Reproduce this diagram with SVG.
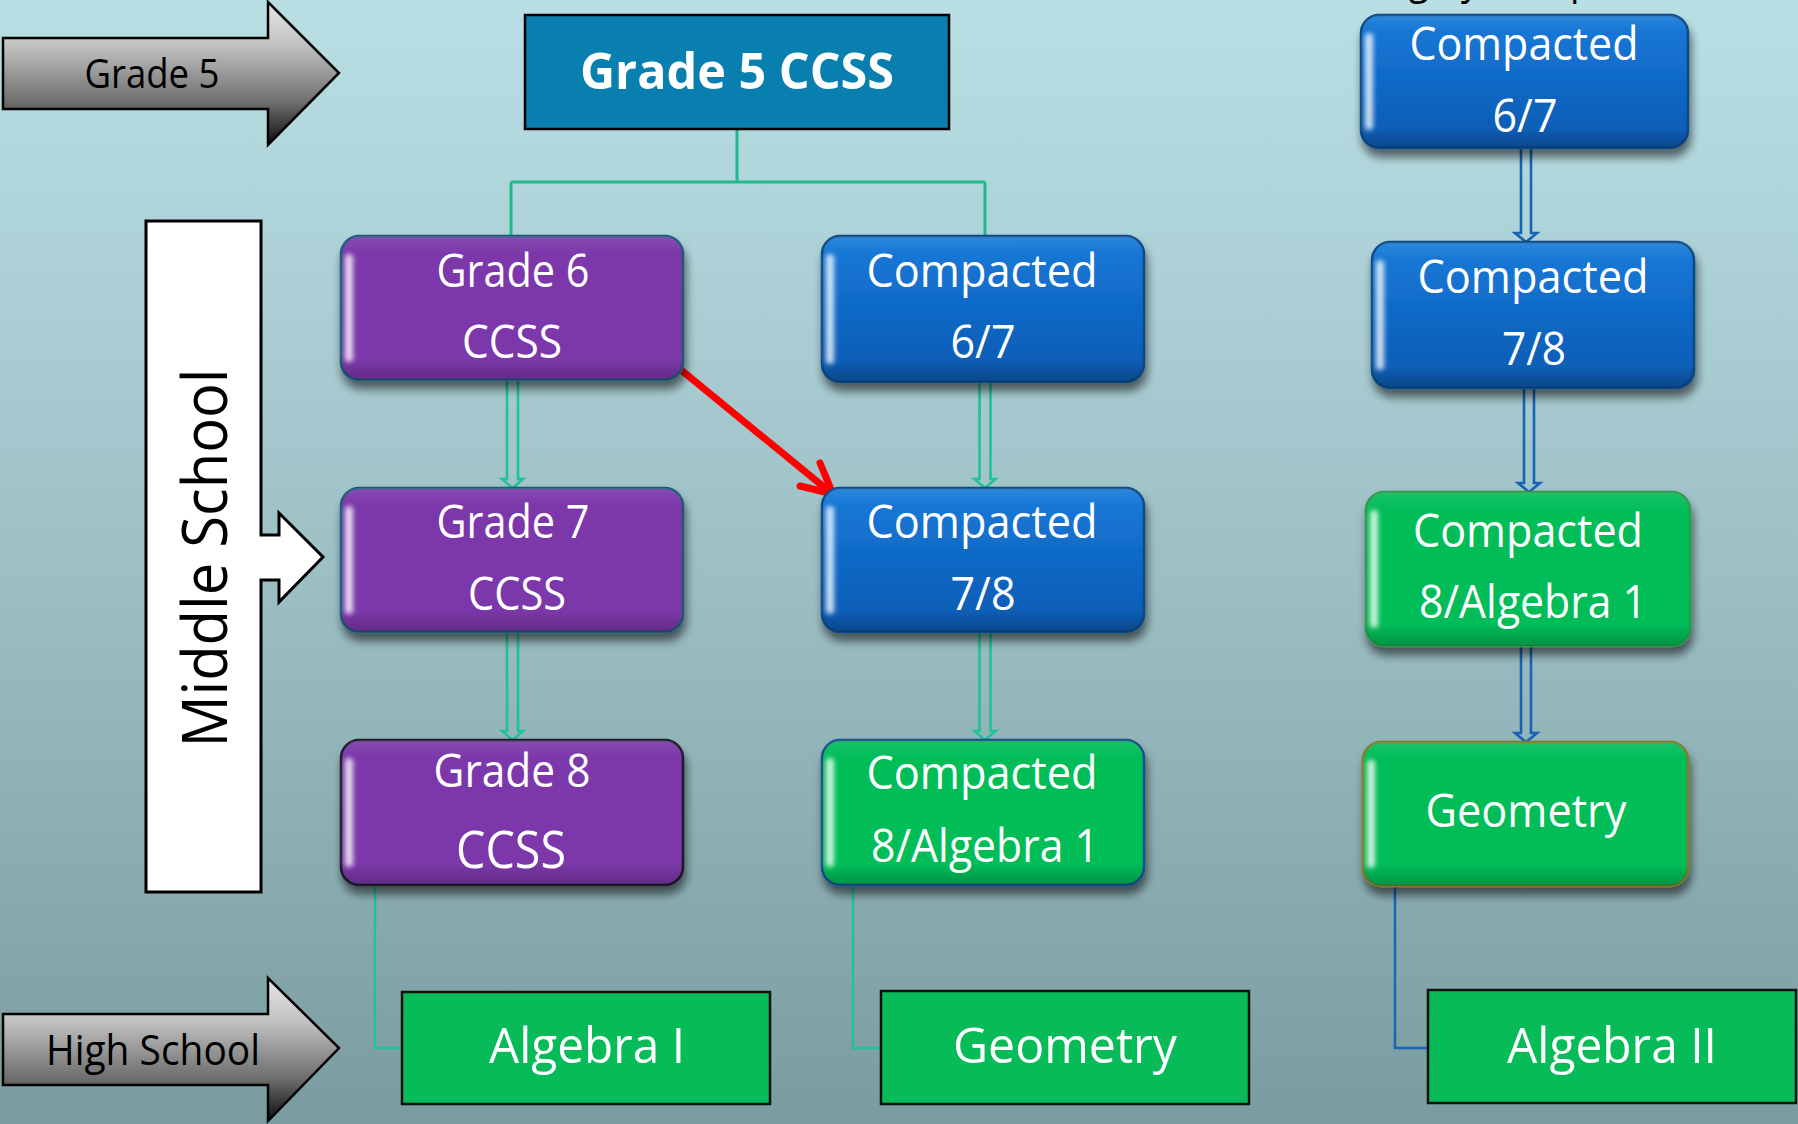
<svg xmlns="http://www.w3.org/2000/svg" width="1798" height="1124" viewBox="0 0 1798 1124">
<defs>
  <linearGradient id="bg" x1="0" y1="0" x2="0" y2="1">
    <stop offset="0" stop-color="#b9dfe5"/>
    <stop offset="0.5" stop-color="#9dc0c5"/>
    <stop offset="1" stop-color="#7a9ca0"/>
  </linearGradient>
  <linearGradient id="grayArrow" x1="0" y1="0" x2="0" y2="1">
    <stop offset="0" stop-color="#e6e6e6"/>
    <stop offset="0.3" stop-color="#c2c2c2"/>
    <stop offset="0.7" stop-color="#6e6e6e"/>
    <stop offset="1" stop-color="#0e0e0e"/>
  </linearGradient>
  <linearGradient id="blueFill" x1="0" y1="0" x2="0" y2="1">
    <stop offset="0" stop-color="#177bd9"/>
    <stop offset="0.5" stop-color="#1069c6"/>
    <stop offset="1" stop-color="#085ab0"/>
  </linearGradient>
  <linearGradient id="gloss" x1="0" y1="0" x2="0" y2="1">
    <stop offset="0" stop-color="#ffffff" stop-opacity="0.10"/>
    <stop offset="0.12" stop-color="#ffffff" stop-opacity="0"/>
    <stop offset="0.85" stop-color="#000000" stop-opacity="0"/>
    <stop offset="1" stop-color="#000000" stop-opacity="0.22"/>
  </linearGradient>
  <filter id="shadow" x="-10%" y="-10%" width="120%" height="135%">
    <feGaussianBlur in="SourceAlpha" stdDeviation="5"/>
    <feOffset dx="2" dy="8" result="b"/>
    <feComponentTransfer><feFuncA type="linear" slope="0.55"/></feComponentTransfer>
    <feMerge><feMergeNode/><feMergeNode in="SourceGraphic"/></feMerge>
  </filter>
  <filter id="soft" x="-150%" y="-10%" width="400%" height="120%">
    <feGaussianBlur stdDeviation="2.4"/>
  </filter>
  <style>
    .lbl { font-family: "Open Sans", "Noto Sans", "Liberation Sans", sans-serif; fill: #ffffff; text-anchor: middle; }
    .dark { font-family: "Open Sans", "Noto Sans", "Liberation Sans", sans-serif; fill: #000000; text-anchor: middle; }
    .s45 { font-size: 45px; }
    .s50 { font-size: 50px; }
    .purple { fill: #7b37aa; stroke: #1d5a78; stroke-width: 2.5; }
    .blue { fill: url(#blueFill); stroke: #0c4a85; stroke-width: 2.5; }
    .green { fill: #06bd58; stroke-width: 2.5; }
    .glossy { fill: url(#gloss); stroke: none; }
    .hl { fill: #ffffff; opacity: 0.8; }
    .rectBox { fill: #07bc58; stroke: #111111; stroke-width: 2.5; }
    .tree { fill: none; stroke: #1fb98b; stroke-width: 3; }
    .dblG { fill: none; stroke: #1fc493; stroke-width: 2.6; stroke-linejoin: miter; }
    .dblB { fill: none; stroke: #1763b5; stroke-width: 2.6; stroke-linejoin: miter; }
    .elbG { fill: none; stroke: #1ec493; stroke-width: 2.5; }
    .elbB { fill: none; stroke: #1766bb; stroke-width: 2.5; }
  </style>
</defs>

<rect x="0" y="0" width="1798" height="1124" fill="url(#bg)"/>

<g id="top-cut-label">
  <text class="dark" x="1530" y="-6" font-size="42" textLength="317" lengthAdjust="spacingAndGlyphs">Highly Compacted</text>
</g>

<g id="connectors">
  <path class="tree" d="M737,129 V182 M511,182 H985 M511,182 V236 M985,182 V236"/>
  <path class="dblG" d="M507,381 V479 L502,479 L512.5,488 L523,479 L518,479 V381"/>
  <path class="dblG" d="M507,632 V731 L502,731 L512.5,740 L523,731 L518,731 V632"/>
  <path class="dblG" d="M979.5,382 V479 L974.5,479 L985,488 L995.5,479 L990.5,479 V382"/>
  <path class="dblG" d="M979.5,632 V731 L974.5,731 L985,740 L995.5,731 L990.5,731 V632"/>
  <path class="dblB" d="M1521,148 V233 L1515,233 L1526,242 L1537,233 L1531,233 V148"/>
  <path class="dblB" d="M1524,388 V483 L1518,483 L1529,492 L1540,483 L1534,483 V388"/>
  <path class="dblB" d="M1521,646 V733 L1515,733 L1526,742 L1537,733 L1531,733 V646"/>
  <path class="elbG" d="M375,885 V1048 H402"/>
  <path class="elbG" d="M853,885 V1048 H881"/>
  <path class="elbB" d="M1395,886 V1048 H1428"/>
  <path d="M675,365 L830,492" fill="none" stroke="#ff0000" stroke-width="7" stroke-linecap="round"/>
  <path d="M800,486 L833,494 L820,463" fill="none" stroke="#ff0000" stroke-width="7" stroke-linecap="round" stroke-linejoin="round"/>
</g>

<g id="grade5-arrow">
  <path d="M3,38 H268 V2 L339,73 L268,145 V109 H3 Z" fill="url(#grayArrow)" stroke="#000" stroke-width="2.5"/>
  <text class="dark" x="152" y="88" font-size="41" textLength="135" lengthAdjust="spacingAndGlyphs">Grade 5</text>
</g>

<g id="highschool-arrow">
  <path d="M3,1014 H268 V978 L339,1048 L268,1121 V1085 H3 Z" fill="url(#grayArrow)" stroke="#000" stroke-width="2.5"/>
  <text class="dark" x="153" y="1065" font-size="42" textLength="214" lengthAdjust="spacingAndGlyphs">High School</text>
</g>

<g id="middle-school">
  <path d="M146,221 H261 V535 H279 V513 L323,557 L279,602 V580 H261 V892 H146 Z" fill="#ffffff" stroke="#000" stroke-width="3"/>
  <text class="dark" transform="translate(227,558) rotate(-90)" x="0" y="0" font-size="62" textLength="379" lengthAdjust="spacingAndGlyphs">Middle School</text>
</g>

<g id="grade5-ccss">
  <rect x="525" y="15" width="424" height="114" fill="#087fae" stroke="#000" stroke-width="2.5"/>
  <text class="lbl" x="737" y="89" font-size="51" font-weight="bold" textLength="314" lengthAdjust="spacingAndGlyphs">Grade 5 CCSS</text>
</g>

<g id="grade6">
  <rect class="purple" x="341" y="236" width="342" height="144" rx="18" filter="url(#shadow)"/>
  <rect class="glossy" x="341" y="236" width="342" height="144" rx="18"/>
  <rect class="hl" x="345" y="254" width="8" height="108" rx="4" filter="url(#soft)"/>
  <text class="lbl s45" x="513" y="287" textLength="153" lengthAdjust="spacingAndGlyphs">Grade 6</text>
  <text class="lbl s45" x="512" y="358" textLength="100" lengthAdjust="spacingAndGlyphs">CCSS</text>
</g>

<g id="grade7">
  <rect class="purple" x="341" y="488" width="342" height="144" rx="18" filter="url(#shadow)"/>
  <rect class="glossy" x="341" y="488" width="342" height="144" rx="18"/>
  <rect class="hl" x="345" y="506" width="8" height="108" rx="4" filter="url(#soft)"/>
  <text class="lbl s45" x="513" y="538" textLength="153" lengthAdjust="spacingAndGlyphs">Grade 7</text>
  <text class="lbl s45" x="517" y="610" textLength="98" lengthAdjust="spacingAndGlyphs">CCSS</text>
</g>

<g id="grade8">
  <rect class="purple" x="341" y="740" width="342" height="145" rx="18" filter="url(#shadow)" style="stroke:#1a1a2a"/>
  <rect class="glossy" x="341" y="740" width="342" height="145" rx="18"/>
  <rect class="hl" x="345" y="758" width="8" height="109" rx="4" filter="url(#soft)"/>
  <text class="lbl s45" x="512" y="787" textLength="157" lengthAdjust="spacingAndGlyphs">Grade 8</text>
  <text class="lbl" x="511" y="868" font-size="52" textLength="110" lengthAdjust="spacingAndGlyphs">CCSS</text>
</g>

<g id="compacted67-a">
  <rect class="blue" x="822" y="236" width="322" height="146" rx="18" filter="url(#shadow)"/>
  <rect class="glossy" x="822" y="236" width="322" height="146" rx="18"/>
  <rect class="hl" x="826" y="254" width="8" height="110" rx="4" filter="url(#soft)"/>
  <text class="lbl s45" x="982" y="287" textLength="231" lengthAdjust="spacingAndGlyphs">Compacted</text>
  <text class="lbl s45" x="983" y="358" textLength="65" lengthAdjust="spacingAndGlyphs">6/7</text>
</g>

<g id="compacted78-a">
  <rect class="blue" x="822" y="488" width="322" height="144" rx="18" filter="url(#shadow)"/>
  <rect class="glossy" x="822" y="488" width="322" height="144" rx="18"/>
  <rect class="hl" x="826" y="506" width="8" height="108" rx="4" filter="url(#soft)"/>
  <text class="lbl s45" x="982" y="538" textLength="231" lengthAdjust="spacingAndGlyphs">Compacted</text>
  <text class="lbl s45" x="983" y="610" textLength="65" lengthAdjust="spacingAndGlyphs">7/8</text>
</g>

<g id="compacted8alg1-a">
  <rect class="green" x="822" y="740" width="322" height="145" rx="18" filter="url(#shadow)" style="stroke:#17508a"/>
  <rect class="glossy" x="822" y="740" width="322" height="145" rx="18"/>
  <rect class="hl" x="826" y="758" width="8" height="109" rx="4" filter="url(#soft)"/>
  <text class="lbl s45" x="982" y="789" textLength="231" lengthAdjust="spacingAndGlyphs">Compacted</text>
  <text class="lbl s45" x="985" y="862" textLength="228" lengthAdjust="spacingAndGlyphs">8/Algebra 1</text>
</g>

<g id="compacted67-b">
  <rect class="blue" x="1361" y="15" width="327" height="133" rx="18" filter="url(#shadow)"/>
  <rect class="glossy" x="1361" y="15" width="327" height="133" rx="18"/>
  <rect class="hl" x="1365" y="33" width="8" height="97" rx="4" filter="url(#soft)"/>
  <text class="lbl s45" x="1524" y="60" textLength="229" lengthAdjust="spacingAndGlyphs">Compacted</text>
  <text class="lbl s45" x="1525" y="132" textLength="65" lengthAdjust="spacingAndGlyphs">6/7</text>
</g>

<g id="compacted78-b">
  <rect class="blue" x="1372" y="242" width="322" height="146" rx="18" filter="url(#shadow)"/>
  <rect class="glossy" x="1372" y="242" width="322" height="146" rx="18"/>
  <rect class="hl" x="1376" y="260" width="8" height="110" rx="4" filter="url(#soft)"/>
  <text class="lbl s45" x="1533" y="293" textLength="231" lengthAdjust="spacingAndGlyphs">Compacted</text>
  <text class="lbl s45" x="1534" y="365" textLength="64" lengthAdjust="spacingAndGlyphs">7/8</text>
</g>

<g id="compacted8alg1-b">
  <rect class="green" x="1366" y="492" width="324" height="154" rx="18" filter="url(#shadow)" style="stroke:#2a9a4a"/>
  <rect class="glossy" x="1366" y="492" width="324" height="154" rx="18"/>
  <rect class="hl" x="1370" y="510" width="8" height="118" rx="4" filter="url(#soft)"/>
  <text class="lbl s45" x="1528" y="547" textLength="230" lengthAdjust="spacingAndGlyphs">Compacted</text>
  <text class="lbl s45" x="1533" y="618" textLength="228" lengthAdjust="spacingAndGlyphs">8/Algebra 1</text>
</g>

<g id="geometry-b">
  <rect class="green" x="1363" y="742" width="325" height="144" rx="18" filter="url(#shadow)" style="stroke:#7b7d2a"/>
  <rect class="glossy" x="1363" y="742" width="325" height="144" rx="18"/>
  <rect class="hl" x="1367" y="760" width="8" height="108" rx="4" filter="url(#soft)"/>
  <text class="lbl" x="1526" y="827" font-size="46" textLength="201" lengthAdjust="spacingAndGlyphs">Geometry</text>
</g>

<g id="algebra1">
  <rect class="rectBox" x="402" y="992" width="368" height="112"/>
  <text class="lbl s50" x="587" y="1063" textLength="196" lengthAdjust="spacingAndGlyphs">Algebra I</text>
</g>

<g id="geometry-hs">
  <rect class="rectBox" x="881" y="991" width="368" height="113"/>
  <text class="lbl s50" x="1065" y="1063" textLength="224" lengthAdjust="spacingAndGlyphs">Geometry</text>
</g>

<g id="algebra2">
  <rect class="rectBox" x="1428" y="990" width="368" height="113"/>
  <text class="lbl s50" x="1612" y="1063" textLength="210" lengthAdjust="spacingAndGlyphs">Algebra II</text>
</g>
</svg>
